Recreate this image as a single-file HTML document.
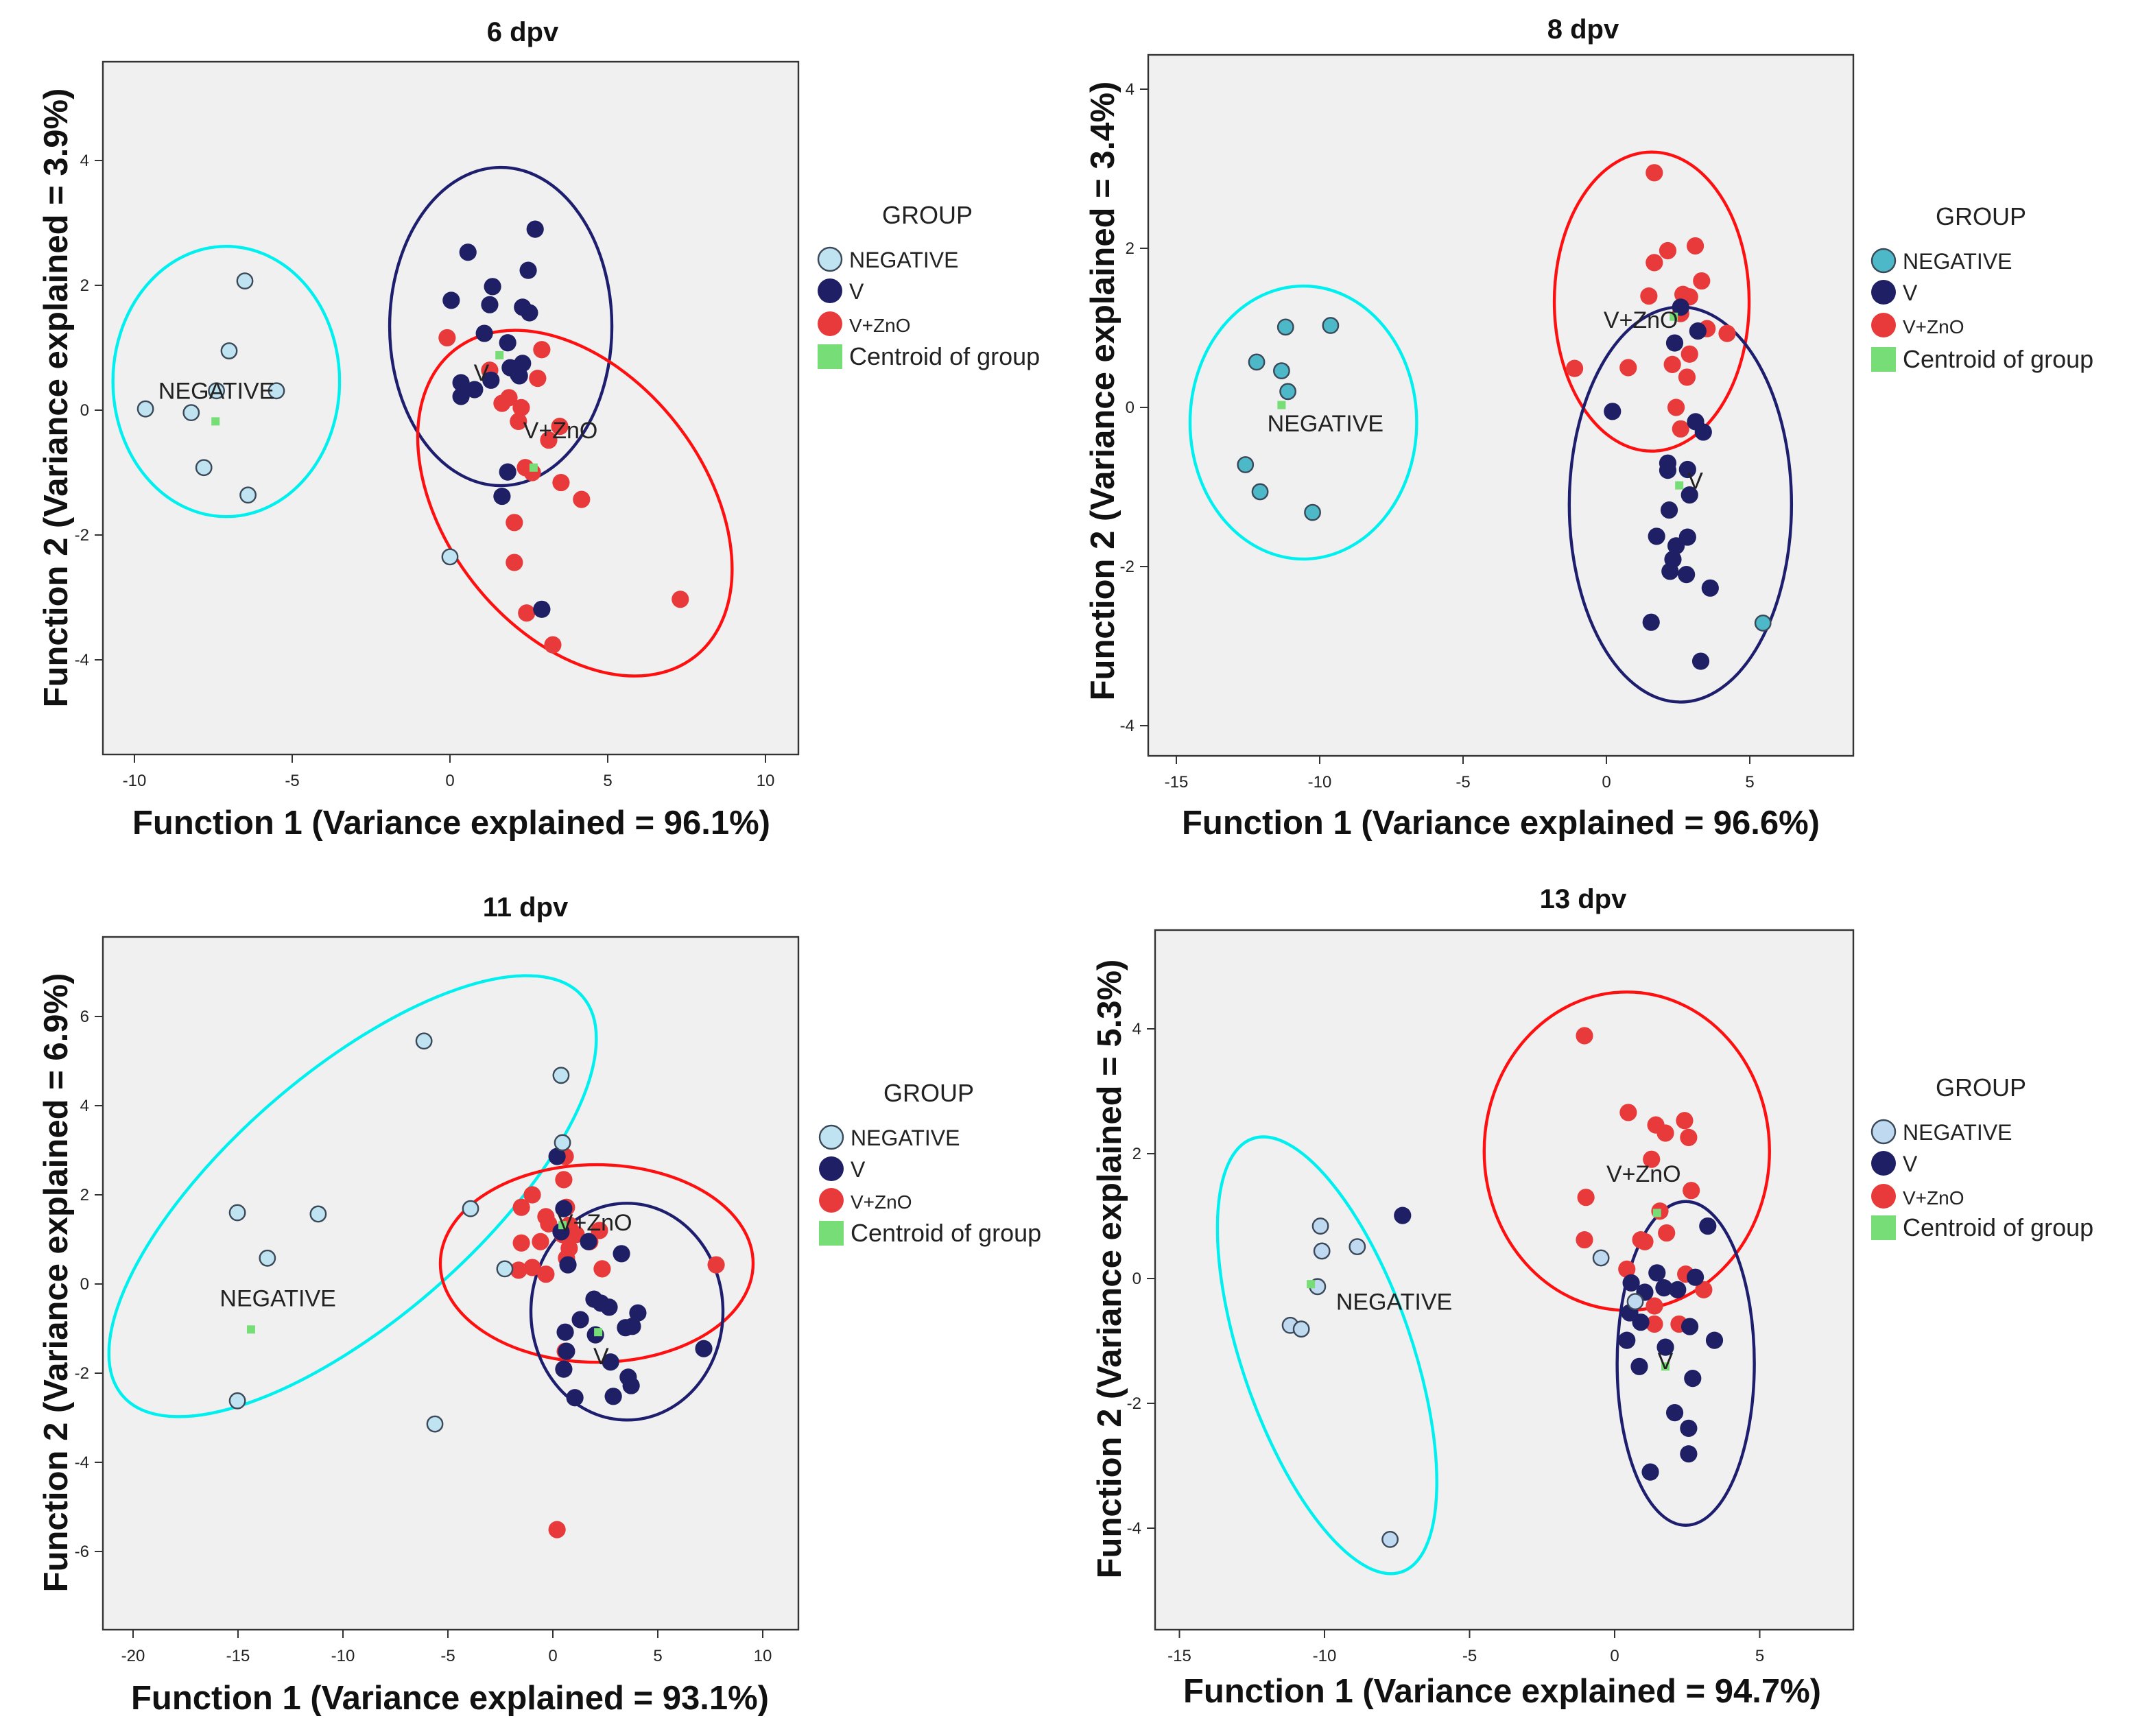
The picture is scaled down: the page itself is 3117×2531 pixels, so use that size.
<!DOCTYPE html>
<html><head><meta charset="utf-8"><style>
html,body{margin:0;padding:0;background:#fff;}
svg{display:block;font-family:"Liberation Sans",Arial,sans-serif;}
</style></head><body>
<svg id="fig" width="3117" height="2531" viewBox="0 0 1558.5 1265.5" xmlns="http://www.w3.org/2000/svg"></svg>
<script>
// ---------- data ----------
const p1Neg = [[-6.5,2.07],[-7,0.95],[-7.4,0.31],[-5.5,0.31],[-9.65,0.02],[-8.2,-0.04],[-7.8,-0.92],[-6.4,-1.36],[0,-2.35]];
const p1V = [[2.7,2.9],[0.57,2.53],[2.48,2.24],[1.35,1.98],[2.3,1.65],[0.04,1.76],[1.26,1.69],[2.52,1.56],[1.09,1.23],[1.83,1.08],[2.3,0.75],[1.91,0.68],[0.35,0.44],[0.35,0.22],[0.78,0.33],[1.3,0.48],[2.17,0.57],[1.83,-0.99],[1.65,-1.38],[2.91,-3.19],[2.2,0.55]];
const p1VZ = [[-0.09,1.16],[2.91,0.97],[1.26,0.64],[2.78,0.51],[1.87,0.2],[1.65,0.11],[2.26,0.04],[2.17,-0.18],[3.48,-0.26],[3.13,-0.48],[2.39,-0.92],[2.61,-1.0],[3.52,-1.16],[4.17,-1.43],[2.04,-1.8],[2.04,-2.44],[2.43,-3.25],[3.26,-3.76],[7.3,-3.03]];
const p1Cent = [[-7.43,-0.18],[1.57,0.88],[2.65,-0.92]];

const p2Neg = [[-11.19,1.01],[-9.62,1.03],[-12.2,0.57],[-11.33,0.46],[-11.11,0.2],[-12.59,-0.72],[-12.08,-1.06],[-10.25,-1.32],[5.46,-2.71]];
const p2VZ = [[1.67,2.95],[2.14,1.97],[3.1,2.03],[1.67,1.82],[3.32,1.59],[1.48,1.4],[2.67,1.42],[2.9,1.39],[2.59,1.18],[3.51,0.99],[4.21,0.93],[2.9,0.67],[-1.11,0.49],[0.76,0.5],[2.3,0.54],[2.81,0.38],[2.43,0],[2.59,-0.27]];
const p2V = [[2.59,1.26],[3.19,0.96],[2.38,0.81],[0.21,-0.05],[3.11,-0.18],[3.38,-0.31],[2.14,-0.7],[2.14,-0.79],[2.83,-0.78],[2.9,-1.1],[2.19,-1.29],[1.75,-1.62],[2.83,-1.63],[2.43,-1.74],[2.32,-1.91],[2.22,-2.06],[2.79,-2.1],[3.62,-2.27],[1.56,-2.7],[3.29,-3.19]];
const p2Cent = [[-11.33,0.03],[2.54,-0.98],[2.35,1.14]];

const p3Neg = [[-6.14,5.45],[0.39,4.68],[0.46,3.17],[-15.03,1.6],[-11.18,1.57],[-13.6,0.58],[-3.92,1.69],[-2.29,0.34],[-15.03,-2.62],[-5.62,-3.14]];
const p3VZ = [[0.59,2.86],[0.52,2.34],[-0.98,2.0],[-1.5,1.72],[-0.33,1.51],[0.65,1.72],[-0.2,1.35],[0.78,1.32],[2.22,1.2],[-1.5,0.92],[-0.59,0.95],[0.78,0.8],[-0.98,0.37],[0.65,0.58],[2.35,0.34],[-1.63,0.31],[-0.33,0.22],[7.78,0.43],[0.59,-1.51],[0.2,-5.51],[1.11,1.11],[0.46,1.11],[1.76,0.95]];
const p3V = [[0.2,2.86],[0.52,1.69],[1.7,0.95],[3.27,0.68],[0.72,0.43],[1.96,-0.34],[2.29,-0.43],[2.68,-0.52],[4.05,-0.65],[1.31,-0.8],[0.59,-1.08],[2.03,-1.14],[3.79,-0.95],[3.46,-0.98],[0.65,-1.51],[2.75,-1.75],[0.52,-1.91],[3.59,-2.09],[3.73,-2.28],[1.05,-2.55],[2.88,-2.52],[7.19,-1.45],[0.39,1.17]];
const p3Cent = [[-14.38,-1.02],[2.16,-1.08],[0.46,1.32]];

const p4Neg = [[-10.14,0.84],[-10.09,0.44],[-8.87,0.51],[-10.24,-0.13],[-11.18,-0.75],[-10.8,-0.81],[-0.47,0.33],[0.71,-0.37],[-7.74,-4.18]];
const p4VZ = [[-1.04,3.89],[0.47,2.66],[1.42,2.46],[2.41,2.53],[1.75,2.33],[2.55,2.26],[1.27,1.91],[-0.99,1.3],[2.64,1.41],[1.56,1.08],[-1.04,0.62],[0.9,0.62],[1.79,0.73],[0.42,0.15],[2.45,0.07],[3.07,-0.18],[1.37,-0.44],[2.22,-0.73],[1.37,-0.73],[1.04,0.59]];
const p4V = [[-7.31,1.01],[3.21,0.84],[1.46,0.09],[2.78,0.02],[0.57,-0.07],[1.7,-0.15],[2.17,-0.18],[1.04,-0.22],[0.52,-0.55],[0.9,-0.7],[2.59,-0.77],[0.42,-0.99],[3.44,-0.99],[1.75,-1.1],[0.85,-1.41],[2.69,-1.6],[2.07,-2.15],[2.55,-2.4],[2.55,-2.81],[1.23,-3.1]];
const p4Cent = [[-10.47,-0.09],[1.75,-1.41],[1.46,1.05]];

const xTicks1 = [-10,-5,0,5,10];
const yTicks1 = [4,2,0,-2,-4];
const xTicks2 = [-15,-10,-5,0,5];
const yTicks2 = [4,2,0,-2,-4];
const xTicks3 = [-20,-15,-10,-5,0,5,10];
const yTicks3 = [6,4,2,0,-2,-4,-6];
const xTicks4 = [-15,-10,-5,0,5];
const yTicks4 = [4,2,0,-2,-4];
const titles = ["6 dpv","8 dpv","11 dpv","13 dpv"];
const xTitles = ["Function 1 (Variance explained = 96.1%)","Function 1 (Variance explained = 96.6%)","Function 1 (Variance explained = 93.1%)","Function 1 (Variance explained = 94.7%)"];
const yTitles = ["Function 2 (Variance explained = 3.9%)","Function 2 (Variance explained = 3.4%)","Function 2 (Variance explained = 6.9%)","Function 2 (Variance explained = 5.3%)"];

// ---------- layout ----------
const NS="http://www.w3.org/2000/svg";
const svg=document.getElementById('fig');
function el(tag,attrs,parent,text){const e=document.createElementNS(NS,tag);for(const k in attrs)e.setAttribute(k,attrs[k]);if(text!==undefined)e.textContent=text;(parent||svg).appendChild(e);return e;}

const panels=[
 {box:[75,45,582,550],x0:328,xs:23,y0:299,ys:45.5,xt:xTicks1,yt:yTicks1,neg:p1Neg,v:p1V,vz:p1VZ,cent:p1Cent,negFill:"#bfe3f0",
  title:[381,30],xtit:[329,608],ytit:[40,290],leg:[605,157],legDy:[189,212,236,260],
  ell:[{c:[-7.09,0.46],rx:82.6,ry:98.5,rot:0,col:"#00f0f0"},{c:[1.61,1.34],rx:81,ry:116,rot:0,col:"#1e1e6e"},{c:[3.96,-1.49],rx:142,ry:94,rot:52,col:"#ff1010"}],
  lab:[["NEGATIVE",-7.4,0.18],["V",1.0,0.47],["V+ZnO",3.5,-0.45]]},
 {box:[837,40,1351,551],x0:1171,xs:20.9,y0:297,ys:58,xt:xTicks2,yt:yTicks2,neg:p2Neg,v:p2V,vz:p2VZ,cent:p2Cent,negFill:"#4db8c8",
  title:[1154,28],xtit:[1094,608],ytit:[803,285],leg:[1373,158],legDy:[190,213,237,262],
  ell:[{c:[-10.57,-0.19],rx:82.6,ry:99.5,rot:0,col:"#00f0f0"},{c:[1.58,1.33],rx:71,ry:109,rot:0,col:"#ff1010"},{c:[2.58,-1.22],rx:81,ry:144,rot:0,col:"#1e1e6e"}],
  lab:[["NEGATIVE",-9.8,-0.3],["V",3.1,-1.02],["V+ZnO",1.2,1.0]]},
 {box:[75,683,582,1188],x0:403,xs:15.3,y0:936,ys:32.5,xt:xTicks3,yt:yTicks3,neg:p3Neg,v:p3V,vz:p3VZ,cent:p3Cent,negFill:"#bfe3f0",
  title:[383,668],xtit:[328,1246],ytit:[40,935],leg:[606,797],legDy:[829,852,875,899],
  ell:[{c:[-9.54,1.97],rx:222,ry:90,rot:-41,col:"#00f0f0"},{c:[2.09,0.46],rx:114,ry:72,rot:0,col:"#ff1010"},{c:[3.53,-0.62],rx:70,ry:79,rot:0,col:"#1e1e6e"}],
  lab:[["NEGATIVE",-13.1,-0.5],["V",2.3,-1.8],["V+ZnO",2.0,1.2]]},
 {box:[842,678,1351,1188],x0:1177,xs:21.15,y0:932,ys:45.5,xt:xTicks4,yt:yTicks4,neg:p4Neg,v:p4V,vz:p4VZ,cent:p4Cent,negFill:"#bfd9f0",
  title:[1154,662],xtit:[1095,1241],ytit:[808,925],leg:[1373,793],legDy:[825,848,872,895],
  ell:[{c:[-9.91,-1.23],rx:62,ry:167,rot:-19,col:"#00f0f0"},{c:[0.42,2.04],rx:104,ry:116,rot:0,col:"#ff1010"},{c:[2.45,-1.36],rx:50,ry:118,rot:0,col:"#1e1e6e"}],
  lab:[["NEGATIVE",-7.6,-0.5],["V",1.75,-1.45],["V+ZnO",1.0,1.55]]}
];

panels.forEach((P,i)=>{
 const g=el('g',{},svg);
 
 
 const X=v=>P.x0+v*P.xs, Y=v=>P.y0-v*P.ys;
 const [bx0,by0,bx1,by1]=P.box;
 const bg=el('rect',{x:bx0,y:by0,width:bx1-bx0,height:by1-by0,fill:"#f0f0f0",stroke:"#333","stroke-width":1.2},g);
 
 
 P.xt.forEach(t=>{
  el('line',{x1:X(t),x2:X(t),y1:by1,y2:by1+6,stroke:"#333","stroke-width":1},g);
  const tl=el('text',{x:X(t),y:by1+23,"font-size":12,"text-anchor":"middle",fill:"#222"},g,String(t));
  
  
 });
 P.yt.forEach(t=>{
  el('line',{x1:bx0-6,x2:bx0,y1:Y(t),y2:Y(t),stroke:"#333","stroke-width":1},g);
  const tl=el('text',{x:bx0-10,y:Y(t)+4,"font-size":12,"text-anchor":"end",fill:"#222"},g,String(t));
  
  
 });
 P.ell.forEach(E=>{
  const cx=X(E.c[0]),cy=Y(E.c[1]);
  const e=el('ellipse',{cx:cx,cy:cy,rx:E.rx,ry:E.ry,fill:"none",stroke:E.col,"stroke-width":2.2,transform:`rotate(${E.rot} ${cx} ${cy})`},g);
  
  
 });
 P.vz.forEach(p=>{const c=el('circle',{cx:X(p[0]),cy:Y(p[1]),r:6.3,fill:"#e83a3a"},g);
  
  });
 P.v.forEach(p=>{const c=el('circle',{cx:X(p[0]),cy:Y(p[1]),r:6.3,fill:"#1f1f66"},g);
  
  });
 P.neg.forEach(p=>{const c=el('circle',{cx:X(p[0]),cy:Y(p[1]),r:5.6,fill:P.negFill,stroke:"#3a4858","stroke-width":1.2},g);
  
  });
 P.cent.forEach(p=>{const s=el('rect',{x:X(p[0])-3,y:Y(p[1])-3,width:6,height:6,fill:"#77dd77"},g);
  
  });
 P.lab.forEach(L=>{const t=el('text',{x:X(L[1]),y:Y(L[2]),"font-size":17,"text-anchor":"middle",fill:"#222"},g,L[0]);
  
  });
 const tt=el('text',{x:P.title[0],y:P.title[1],"font-size":20,"font-weight":"bold","text-anchor":"middle",fill:"#111"},g,titles[i]);
 
 
 const xt=el('text',{x:P.xtit[0],y:P.xtit[1],"font-size":24.5,"font-weight":"bold","text-anchor":"middle",fill:"#111"},g,xTitles[i]);
 
 
 const yt=el('text',{x:P.ytit[0],y:P.ytit[1],"font-size":24.5,"font-weight":"bold","text-anchor":"middle",fill:"#111",transform:`rotate(-90 ${P.ytit[0]} ${P.ytit[1]})`,dy:9},g,yTitles[i]);
 
 
 // legend
 const lg=el('g',{},g);
 
 
 const lt=el('text',{x:P.leg[0]+71,y:P.leg[1]+6,"font-size":18,"text-anchor":"middle",fill:"#222"},lg,"GROUP");
 
 
 const names=["NEGATIVE","V","V+ZnO","Centroid of group"];
 const sizes=[16,16,14,18];
 names.forEach((n,k)=>{
  const y=P.legDy[k], x=P.leg[0];
  let m;
  if(k===0) m=el('circle',{cx:x,cy:y,r:8.5,fill:P.negFill,stroke:"#3a4858","stroke-width":1.2},lg);
  else if(k===1) m=el('circle',{cx:x,cy:y,r:9,fill:"#1f1f66"},lg);
  else if(k===2) m=el('circle',{cx:x,cy:y,r:9,fill:"#e83a3a"},lg);
  else m=el('rect',{x:x-9,y:y-9,width:18,height:18,fill:"#77dd77"},lg);
  
  
  const t=el('text',{x:x+14,y:y+6,"font-size":sizes[k],fill:"#222"},lg,n);
  
  
 });
});
</script>
</body></html>
